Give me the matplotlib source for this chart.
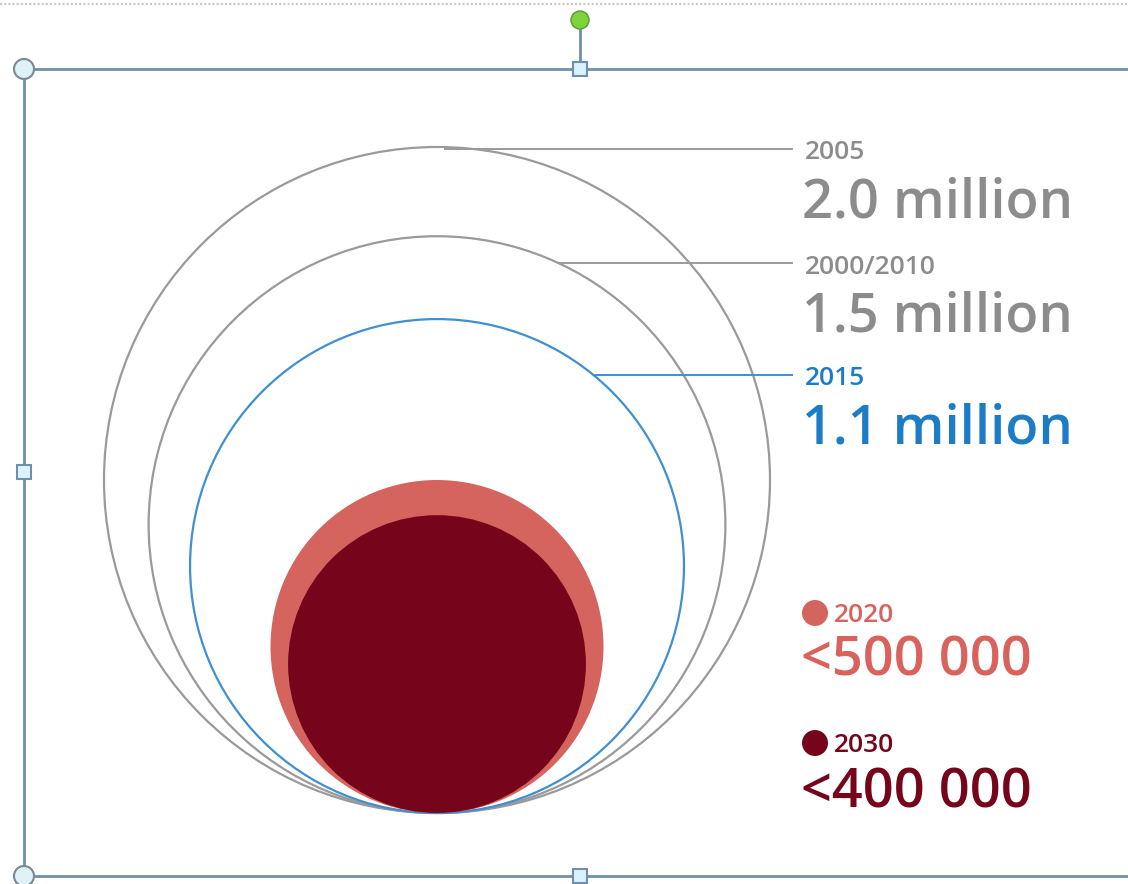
import numpy as np
import matplotlib.pyplot as plt
from matplotlib.patches import Circle, Rectangle

# data: number (millions) per year
years = ['2005', '2000/2010', '2015', '2020', '2030']
values = [2.0, 1.5, 1.1, 0.5, 0.4]
value_labels = ['2.0 million', '1.5 million', '1.1 million', '<500 000', '<400 000']
edge_colors = ['#9a9a9a', '#9a9a9a', '#3f8fd2', None, None]
fill_colors = [None, None, None, '#d5645f', '#76051b']
text_colors = ['#8c8c8c', '#8c8c8c', '#1c7cc6', '#d9625d', '#76051b']

plt.rcParams['font.family'] = ['Open Sans', 'DejaVu Sans']

fig = plt.figure(figsize=(11.28, 8.84), dpi=100)
ax = fig.add_axes([0, 0, 1, 1])
ax.set_xlim(0, 1128)
ax.set_ylim(884, 0)
ax.set_aspect('equal')
ax.axis('off')

# circles sized by area, all touching a common baseline
cx, base = 437, 813
k = 333 / np.sqrt(max(values))
radii = [k * np.sqrt(v) for v in values]
for r, ec, fc in zip(radii, edge_colors, fill_colors):
    cy = base - r
    if fc is None:
        ax.add_patch(Circle((cx, cy), r, fill=False, ec=ec, lw=1.6, zorder=2))
    else:
        ax.add_patch(Circle((cx, cy), r, fc=fc, ec='none', zorder=3))

# leader lines + labels for the outline circles
label_x = 805
line_y = [149, 263, 375]
year_base = [159, 274, 385]
big_base = [218, 331, 444]
for i in range(3):
    r = radii[i]
    cy = base - r
    dy = cy - line_y[i]
    x0 = cx + np.sqrt(max(r**2 - dy**2, 0))
    if i == 0:
        x0 = cx + 8
    ax.plot([x0, 792], [line_y[i], line_y[i]], color=edge_colors[i], lw=1.4, zorder=2)
    ax.text(label_x, year_base[i], years[i], fontsize=19, color=text_colors[i],
            va='baseline', ha='left', fontweight='semibold')
    ax.text(label_x - 3, big_base[i], value_labels[i], fontsize=39, color=text_colors[i],
            va='baseline', ha='left', fontweight='semibold')

# legend-like labels for the filled circles
dot_y = [613, 743]
year_base2 = [622, 752]
big_base2 = [676, 808]
for j, i in enumerate([3, 4]):
    ax.add_patch(Circle((815, dot_y[j]), 13, fc=fill_colors[i], ec='none'))
    ax.text(834, year_base2[j], years[i], fontsize=19, color=text_colors[i],
            va='baseline', ha='left', fontweight='semibold')
    ax.text(label_x - 4, big_base2[j], value_labels[i], fontsize=39, color=text_colors[i],
            va='baseline', ha='left', fontweight='semibold')

# selection frame from the slide editor
frame_c = '#6f8fab'
ax.plot([0, 1128], [4, 4], color='#c8c8c8', lw=1.5, ls=(0, (1, 1)))
ax.add_patch(Rectangle((24, 69), 1110, 807, fill=False, ec=frame_c, lw=2))
ax.plot([580, 580], [20, 69], color=frame_c, lw=2)
ax.add_patch(Circle((580, 20), 9, fc='#7ed23a', ec='#5a9a3a', lw=1, zorder=5))
for (x, y) in [(24, 69), (24, 876)]:
    ax.add_patch(Circle((x, y), 10, fc='#dff2f7', ec='#7a8a95', lw=1.5, zorder=5))
for (x, y) in [(580, 69), (24, 472), (580, 876)]:
    ax.add_patch(Rectangle((x - 7, y - 7), 14, 14, fc='#d8f3fb', ec=frame_c, lw=1.5, zorder=5))

fig.savefig('out.png', dpi=100)
